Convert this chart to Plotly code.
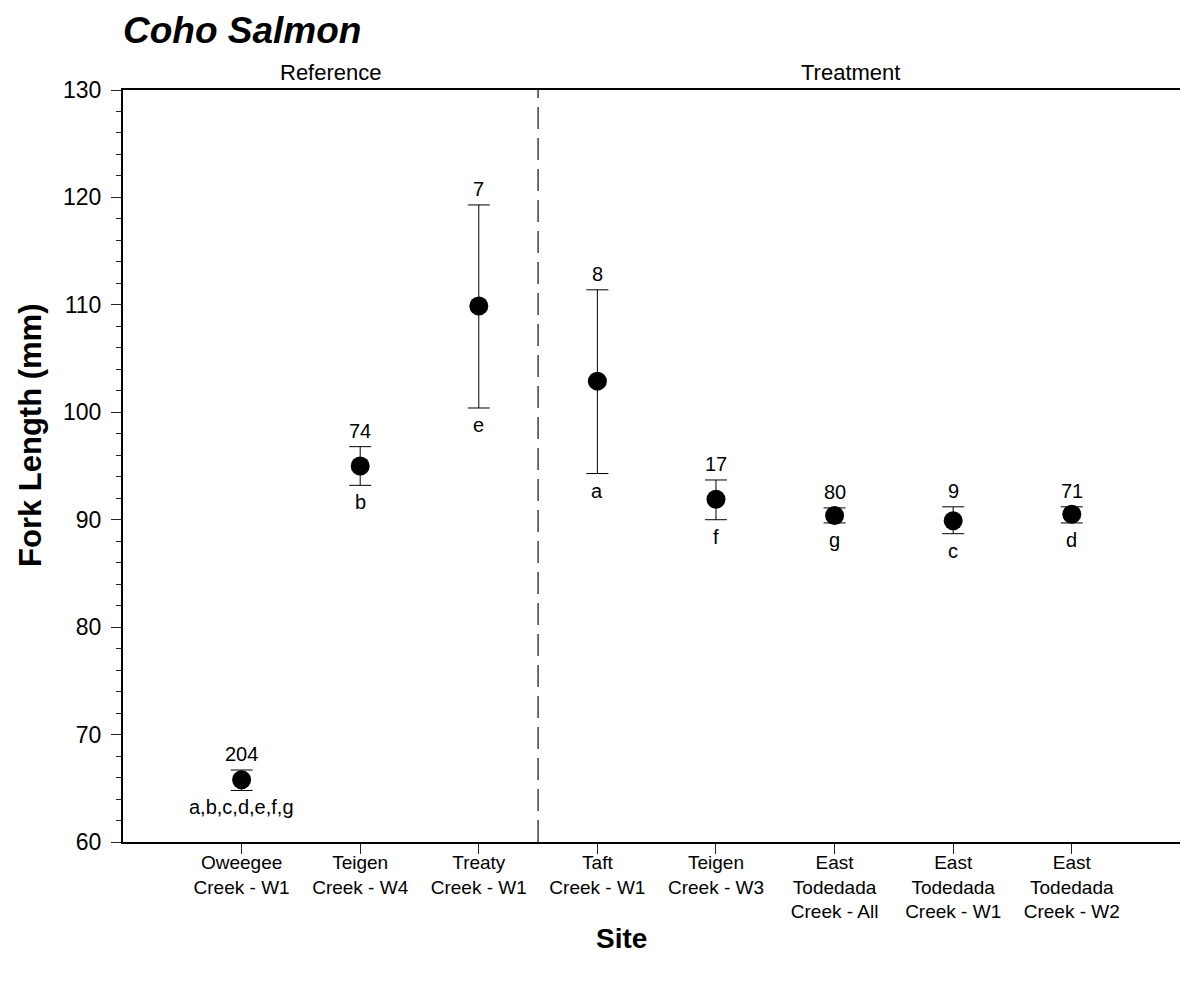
import plotly.graph_objects as go

sites = ["Oweegee<br>Creek - W1", "Teigen<br>Creek - W4", "Treaty<br>Creek - W1",
         "Taft<br>Creek - W1", "Teigen<br>Creek - W3", "East<br>Todedada<br>Creek - All",
         "East<br>Todedada<br>Creek - W1", "East<br>Todedada<br>Creek - W2"]
groups = ["Reference", "Reference", "Reference", "Treatment", "Treatment", "Treatment", "Treatment", "Treatment"]
mean_fl = [65.8, 95.0, 109.9, 102.9, 91.9, 90.4, 89.9, 90.5]
upper = [66.7, 96.8, 119.3, 111.4, 93.7, 91.1, 91.2, 91.2]
lower = [64.8, 93.2, 100.4, 94.3, 90.0, 89.7, 88.7, 89.7]
n_fish = ["204", "74", "7", "8", "17", "80", "9", "71"]
letters = ["a,b,c,d,e,f,g", "b", "e", "a", "f", "g", "c", "d"]

FONT = "Liberation Sans, Arial, sans-serif"
xpos = list(range(len(sites)))
n_ref = groups.count("Reference")
divider = n_ref - 0.5

W, H = 1180, 975
ML, MT, MB = 115, 82, 141

fig = go.Figure()
fig.add_trace(go.Scatter(
    x=xpos, y=mean_fl, mode="markers",
    marker=dict(color="black", size=19),
    error_y=dict(type="data", symmetric=False,
                 array=[u - m for u, m in zip(upper, mean_fl)],
                 arrayminus=[m - l for m, l in zip(mean_fl, lower)],
                 color="black", thickness=1, width=11),
    showlegend=False, hoverinfo="skip"))

anns = []
for i in xpos:
    anns.append(dict(x=i, y=upper[i], text=n_fish[i], showarrow=False, xref="x", yref="y",
                     yanchor="bottom", yshift=3, font=dict(size=20, color="black", family=FONT)))
    anns.append(dict(x=i, y=lower[i], text=letters[i], showarrow=False, xref="x", yref="y",
                     yanchor="top", yshift=-4, font=dict(size=20, color="black", family=FONT)))

anns.append(dict(x=(-1 + divider) / 2, y=1, xref="x", yref="paper", yanchor="bottom", yshift=3,
                 text="Reference", showarrow=False, font=dict(size=22, color="black", family=FONT)))
anns.append(dict(x=5.13, y=1, xref="x", yref="paper", yanchor="bottom", yshift=3,
                 text="Treatment", showarrow=False, font=dict(size=22, color="black", family=FONT)))
anns.append(dict(x=0.4685, y=-0.105, xref="paper", yref="paper", yanchor="top", xanchor="center",
                 text="<b>Site</b>", showarrow=False, font=dict(size=28, color="black", family=FONT)))
anns.append(dict(x=-0.0875, y=0.541, xref="paper", yref="paper", textangle=-90,
                 xanchor="center", yanchor="middle", borderpad=0,
                 text="<b>Fork Length (mm)</b>", showarrow=False, font=dict(size=31, color="black", family=FONT)))

fig.add_shape(type="line", x0=divider, x1=divider, y0=0, y1=1, xref="x", yref="paper",
              line=dict(color="#222222", width=1.3, dash="22px,9px"))

fig.update_layout(
    width=W, height=H,
    margin=dict(l=ML, r=0, t=MT, b=MB),
    paper_bgcolor="white", plot_bgcolor="white",
    title=dict(text="<b><i>Coho Salmon</i></b>", x=ML / W, xanchor="left", xref="container",
               y=1 - 22 / H, yanchor="middle", font=dict(size=37, color="black", family=FONT)),
    annotations=anns,
    font=dict(family=FONT, color="black"),
)
fig.update_xaxes(range=[-1, 7.98], tickmode="array", tickvals=xpos, ticktext=sites,
                 ticks="outside", ticklen=10, tickwidth=1, tickcolor="#222222",
                 ticklabelstandoff=-8,
                 showline=True, linecolor="black", linewidth=2, mirror=True,
                 showgrid=False, zeroline=False, tickfont=dict(size=19, family=FONT, color="black"))
fig.update_yaxes(range=[60, 130], dtick=10, tick0=60, ticks="outside", ticklen=10, tickwidth=1,
                 tickcolor="#222222", ticklabelstandoff=5,
                 minor=dict(dtick=2, ticks="outside", ticklen=5, tickcolor="#222222", showgrid=False),
                 showline=True, linecolor="black", linewidth=2, showgrid=False, zeroline=False,
                 tickfont=dict(size=23, family=FONT, color="black"))

fig.write_html("out.html")
